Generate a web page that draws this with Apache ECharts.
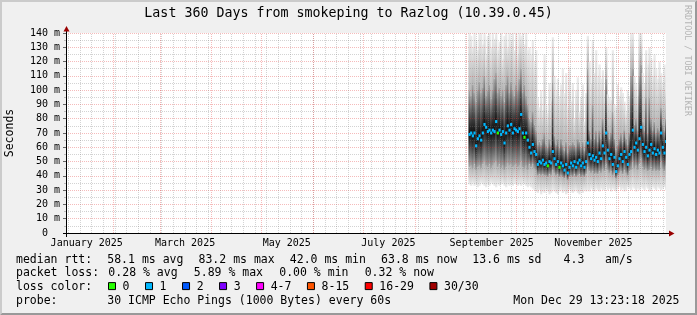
<!DOCTYPE html>
<html><head><meta charset="utf-8">
<script src="https://cdn.jsdelivr.net/npm/echarts@6/dist/echarts.min.js"></script>
<style>html,body{margin:0;padding:0;background:#f0f0f0}#c{width:697px;height:315px}</style>
</head><body><div id="c"></div>
<script>
// ---------- axis / tick data (x = day-of-year 2025, 0 = Jan 1 00:00) ----------
const axisStart = 2.5578;            // Jan 3 2025 13:23:18
const axisEnd = 362.5578;            // Dec 29 2025 13:23:18
const monthStarts = [31, 59, 90, 120, 151, 181, 212, 243, 273, 304, 334];
const firstSunday = 4;               // Jan 5 2025
const monthLabelPos = [15, 74, 135, 196, 258, 319];
const monthLabels = ['January 2025', 'March 2025', 'May 2025', 'July 2025', 'September 2025', 'November 2025'];
const yMax = 140, yStep = 10;

// ---------- smoke data, one column per day, first = Sep 2 2025 ----------
const firstDay = 244;
const rttMed = [69,70,68,70,61,66,68,65,70,76,74,71,72,70,72,71,78,70,72,69,71,63,70,75,72,76,70,73,72,71,73,83,70,67,70,65,
  60,56,62,57,55,48,50,49,51,48, 49,47,50,49,57,52,48,50,46,49, 47,44,48,42,46,49,47,50,46,49,
  51,47,49,46,50,63,55,52,54,51, 53,50,56,52,61,56,70,58,52,55, 48,53,43,47,52,55,50,57,53,48,
  55,57,72,60,63,58,66,74,62,57, 60,54,58,62,56,59,55,58,56,70, 60,56,64];
const rttHi = [140,138,130,140,135,128,140,140,132,140,125,138,140,130,140,136,140,128,134,140,122,138,140,130,140,135,140,128,140,125,140,138,140,132,140,128,
  130,125,135,120,128, 95,88,100,86,125, 90,84,105,92,137, 110,100,108,96,104, 115,98,112,88,116, 92,105,80,100,109,
  85,95,104,78,98, 138,120,105,135,112, 128,110,118,108,114, 100,130,97,95,93, 128,90,88,104,96, 102,98,92,85,100,
  96,140,140,110,105, 96,140,140,112,105, 128,118,130,122,110, 125,115,108,120,112, 105,118,102];
const rttQ3 = [100,96,104,98,92,100,106,98,102,110,96,100,104,94,100,108,112,98,102,96,100,92,104,110,98,106,100,96,104,100,108,115,98,104,96,90,
  80,78,85,76,72, 62,64,62,66,70, 62,60,66,62,105, 68,62,66,60,66, 62,58,64,56,62, 62,64,62,60,66,
  64,60,64,58,64, 115,72,66,90,66, 72,64,72,66,80, 70,108,72,66,70, 85,66,58,62,66, 70,64,72,66,62,
  70,110,115,76,80, 72,110,118,78,72, 95,70,95,80,72, 78,70,74,72,88, 76,72,80];
const rttQ1 = [46,47,45,48,44,46,47,45,48,50,47,46,48,45,47,49,50,46,48,45,47,44,46,49,47,48,46,47,48,46,47,50,46,45,47,44,
  48,46,48,45,44, 40,41,40,41,40, 40,39,41,40,44, 42,40,41,39,40, 39,38,40,37,39, 40,39,41,39,40,
  41,39,40,39,41, 46,43,42,43,41, 42,41,43,42,45, 43,48,44,42,43, 40,42,38,40,42, 43,41,44,42,40,
  43,44,50,45,47, 44,48,52,46,44, 45,43,44,46,43, 45,43,44,43,50, 45,43,47];
const rttLo = [34,33,35,33,34,32,33,35,34,33,32,34,33,35,34,33,32,34,33,34,35,33,32,34,33,34,33,35,34,33,34,33,35,34,33,32,
  33,32,31,30,29, 28,30,27,29,28, 30,29,27,28,30, 29,28,27,29,30, 28,29,27,28,30, 29,28,29,30,28,
  27,29,28,30,29, 30,29,31,30,29, 31,30,29,31,30, 30,32,30,31,29, 31,30,29,31,32, 30,31,29,30,32,
  31,30,32,31,29, 31,30,32,31,30, 32,31,29,30,32, 31,30,32,31,30, 31,32,30];
const lossZeroDays = [17, 33, 47, 54];   // columns whose median is drawn in the "0 lost" colour

// ---------- legend texts ----------
const lossColors = ['#26ff00','#00b8ff','#0059ff','#7e00ff','#ff00ff','#ff5500','#ff0000','#a00000'];
const lossLabels = ['0','1','2','3','4-7','8-15','16-29','30/30'];

const FONT = '"DejaVu Sans Mono", monospace';
const rows = rttMed.map((m, i) => [firstDay + i, rttLo[i], rttQ1[i], m, rttQ3[i], rttHi[i], lossZeroDays.includes(i) ? 0 : 1]);

const weekLines = [];
for (let d = firstSunday; d < axisEnd; d += 7) weekLines.push(d);

function G(stops) {
  return new echarts.graphic.LinearGradient(0, 0, 0, 1, stops.map(s => ({offset: s[0], color: s[1]})));
}
function smoke(params, api) {
  const d = api.value(0);
  const x0 = api.coord([d, 0])[0], x1 = api.coord([d + 1, 0])[0];
  const w = x1 - x0 + 0.6;
  const Y = v => api.coord([d, v])[1];
  const lo = api.value(1), q1 = api.value(2), md = api.value(3), q3 = api.value(4), hi = api.value(5);
  const r = (a, b, fill) => ({type: 'rect', shape: {x: x0, y: Y(a), width: w, height: Y(b) - Y(a)}, style: {fill}});
  return {type: 'group', children: [
    r(hi, q3, G([[0, '#ececec'], [1, '#b2b2b2']])),
    r(q3, md, G([[0, '#a6a6a6'], [0.55, '#4e4e4e'], [1, '#0c0c0c']])),
    r(md, q1, G([[0, '#0c0c0c'], [0.45, '#4e4e4e'], [1, '#a6a6a6']])),
    r(q1, lo, G([[0, '#b2b2b2'], [1, '#ececec']]))
  ]};
}
function median(params, api) {
  const d = api.value(0);
  const x0 = api.coord([d, 0])[0], x1 = api.coord([d + 1, 0])[0];
  const y = api.coord([d, api.value(3)])[1];
  return {type: 'rect', shape: {x: x0, y: y - 1.5, width: Math.max(x1 - x0, 2.2), height: 3},
    style: {fill: lossColors[api.value(6)]}};
}

const chart = echarts.init(document.getElementById('c'), null, {renderer: 'canvas'});

const gText = (text, x, y, opt) => Object.assign({type: 'text', z: 100, silent: true,
  style: Object.assign({text, x, y, font: '11.5px ' + FONT, fill: '#000', textAlign: 'left', textVerticalAlign: 'middle'}, opt || {})});

const graphics = [];
// 3D frame
graphics.push({type: 'polygon', z: 100, silent: true, shape: {points: [[0,315],[2,313],[2,2],[695,2],[697,0],[0,0]]}, style: {fill: '#cbcbcb'}});
graphics.push({type: 'polygon', z: 100, silent: true, shape: {points: [[2,313],[695,313],[695,2],[697,0],[697,315],[0,315]]}, style: {fill: '#999999'}});
// title & watermark
graphics.push(gText('Last 360 Days from smokeping to Razlog (10.39.0.45)', 348.5, 13.5, {font: '13.3px ' + FONT, textAlign: 'center'}));
graphics.push({type: 'text', z: 100, silent: true, x: 687.5, y: 5, rotation: -Math.PI / 2,
  style: {text: 'RRDTOOL / TOBI OETIKER', x: 0, y: 0, font: '8.4px ' + FONT, fill: '#b4b4b4', textAlign: 'left', textVerticalAlign: 'middle'}});
graphics.push({type: 'text', z: 100, silent: true, x: 10.5, y: 133, rotation: Math.PI / 2,
  style: {text: 'Seconds', x: 0, y: 0, font: '11.5px ' + FONT, fill: '#000', textAlign: 'center', textVerticalAlign: 'middle'}});
// axis lines and arrows
graphics.push({type: 'line', z: 90, silent: true, shape: {x1: 63, y1: 233.5, x2: 670, y2: 233.5}, style: {stroke: '#000', lineWidth: 1}});
graphics.push({type: 'line', z: 90, silent: true, shape: {x1: 66.5, y1: 237, x2: 66.5, y2: 30}, style: {stroke: '#000', lineWidth: 1}});
graphics.push({type: 'polygon', z: 91, silent: true, shape: {points: [[66.5,26],[63.5,31.5],[69.5,31.5]]}, style: {fill: '#990000'}});
graphics.push({type: 'polygon', z: 91, silent: true, shape: {points: [[674.5,233.5],[669,230.5],[669,236.5]]}, style: {fill: '#990000'}});

// legend lines
const CW = 6.92, LX = 16, GAP = 1.3;
const L1 = 259.7, L2 = 273.3, L3 = 287.1, L4 = 300.9;
const colX = (col, i) => LX + col * CW + i * GAP;
[['median rtt:', 0, 0], ['58.1 ms avg', 13, 1], ['83.2 ms max', 26, 2], ['42.0 ms min', 39, 3],
 ['63.8 ms now', 52, 4], ['13.6 ms sd', 65, 5], ['4.3   am/s', 78, 6]].forEach(([t, c, i]) => graphics.push(gText(t, colX(c, i), L1)));
[['packet loss:', 0, 0], ['0.28 % avg', 13, 1], ['5.89 % max', 25, 2], ['0.00 % min', 37, 3], ['0.32 % now', 49, 4]]
  .forEach(([t, c, i]) => graphics.push(gText(t, colX(c, i) + (i ? i * 1.1 : 0), L2)));
graphics.push(gText('loss color:', LX, L3));
let bx = 108;
lossLabels.forEach((lab, i) => {
  graphics.push({type: 'rect', z: 100, silent: true, shape: {x: bx + 0.5, y: L3 - 4.5, width: 7, height: 7},
    style: {fill: lossColors[i], stroke: '#000', lineWidth: 1}});
  graphics.push(gText(lab, bx + 14.6, L3));
  bx += 30.1 + lab.length * CW;
});
graphics.push(gText('probe:', LX, L4));
graphics.push(gText('30 ICMP Echo Pings (1000 Bytes) every 60s', colX(13, 1), L4));
graphics.push(gText('Mon Dec 29 13:23:18 2025', 679.5, L4, {textAlign: 'right'}));

const GRAY = 'rgba(120,120,120,0.33)', RED = 'rgba(225,50,50,0.33)';
const vGrid = weekLines.map(v => ({xAxis: v, lineStyle: {color: GRAY, width: 1, type: [1, 1]}}))
  .concat(monthStarts.map(v => ({xAxis: v, lineStyle: {color: RED, width: 1, type: [1, 1]}})));

chart.setOption({
  animation: false,
  backgroundColor: '#f0f0f0',
  grid: {left: 66, top: 33, width: 600, height: 200, show: true, backgroundColor: '#ffffff', borderWidth: 0},
  xAxis: {
    type: 'value', min: axisStart, max: axisEnd,
    axisLine: {show: false}, axisTick: {show: false}, splitLine: {show: false},
    axisLabel: {customValues: monthLabelPos, margin: 5, color: '#000', fontFamily: FONT, fontSize: 10,
      formatter: v => monthLabels[monthLabelPos.indexOf(v)] || ''}
  },
  yAxis: {
    type: 'value', min: 0, max: yMax, interval: yStep, z: 3,
    axisLine: {show: false},
    axisTick: {show: true, length: 3, lineStyle: {color: '#666'}},
    minorTick: {show: true, splitNumber: 2, length: 2, lineStyle: {color: '#bbb'}},
    axisLabel: {margin: 6, color: '#000', fontFamily: FONT, fontSize: 10,
      formatter: v => v === 0 ? '0  ' : v + ' m'},
    splitLine: {show: true, lineStyle: {color: RED, width: 1, type: [1, 1]}},
    minorSplitLine: {show: true, lineStyle: {color: GRAY, width: 1, type: [1, 1]}}
  },
  graphic: graphics,
  series: [
    {type: 'custom', name: 'smoke', data: rows, renderItem: smoke, clip: true, z: 2, silent: true},
    {type: 'line', name: 'grid', data: [], z: 4, silent: true,
      markLine: {silent: true, symbol: ['none', 'none'], label: {show: false}, animation: false, data: vGrid}},
    {type: 'custom', name: 'median', data: rows, renderItem: median, clip: true, z: 6, silent: true}
  ]
});
</script></body></html>
